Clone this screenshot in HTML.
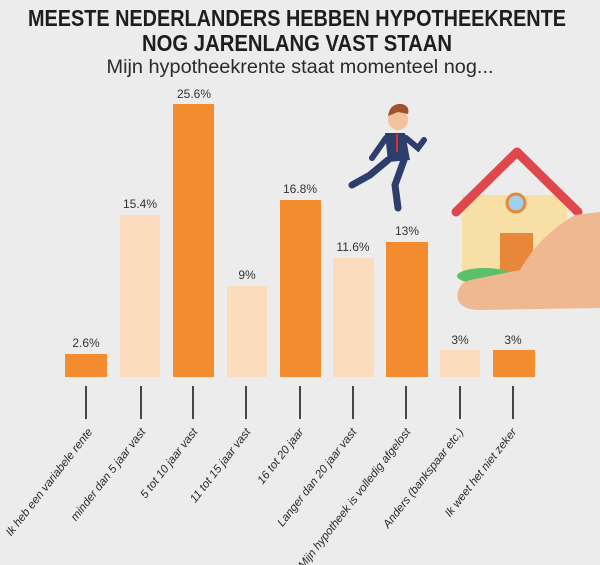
<!DOCTYPE html>
<html><head><meta charset="utf-8"><style>
html,body{margin:0;padding:0;background:#ececec}
svg{display:block}
</style></head><body>
<svg width="600" height="565" viewBox="0 0 600 565" xmlns="http://www.w3.org/2000/svg" font-family="Liberation Sans, sans-serif">
<rect width="600" height="565" fill="#ececec"/>
<text x="297" y="26" text-anchor="middle" font-size="23" font-weight="bold" fill="#1e1e1e" textLength="538" lengthAdjust="spacingAndGlyphs">MEESTE NEDERLANDERS HEBBEN HYPOTHEEKRENTE</text>
<text x="297" y="51" text-anchor="middle" font-size="23" font-weight="bold" fill="#1e1e1e" textLength="310" lengthAdjust="spacingAndGlyphs">NOG JARENLANG VAST STAAN</text>
<text x="300" y="73" text-anchor="middle" font-size="19" fill="#2a2a2a" textLength="387" lengthAdjust="spacingAndGlyphs">Mijn hypotheekrente staat momenteel nog...</text>

<g font-size="12" fill="#333" text-anchor="middle">
<rect x="65" y="354" width="42" height="23" fill="#f28c2e"/><text x="86" y="347">2.6%</text>
<rect x="120" y="215" width="40" height="162" fill="#fbdcbd"/><text x="140" y="208">15.4%</text>
<rect x="173" y="104" width="41" height="273" fill="#f28c2e"/><text x="194" y="98">25.6%</text>
<rect x="227" y="286" width="40" height="91" fill="#fbdcbd"/><text x="247" y="279">9%</text>
<rect x="280" y="200" width="41" height="177" fill="#f28c2e"/><text x="300" y="193">16.8%</text>
<rect x="333" y="258" width="41" height="119" fill="#fbdcbd"/><text x="353" y="251">11.6%</text>
<rect x="386" y="242" width="42" height="135" fill="#f28c2e"/><text x="407" y="235">13%</text>
<rect x="440" y="350" width="40" height="27" fill="#fbdcbd"/><text x="460" y="344">3%</text>
<rect x="493" y="350" width="42" height="27" fill="#f28c2e"/><text x="513" y="344">3%</text>
</g>

<g stroke="#333" stroke-width="1.8">
<line x1="86" y1="386" x2="86" y2="419"/><line x1="141" y1="386" x2="141" y2="419"/>
<line x1="193" y1="386" x2="193" y2="419"/><line x1="246" y1="386" x2="246" y2="419"/>
<line x1="300" y1="386" x2="300" y2="419"/><line x1="353" y1="386" x2="353" y2="419"/>
<line x1="406" y1="386" x2="406" y2="419"/><line x1="460" y1="386" x2="460" y2="419"/>
<line x1="513" y1="386" x2="513" y2="419"/>
</g>
<g font-size="11.5" font-style="italic" fill="#2a2a2a" text-anchor="end">
<text transform="translate(93,432) rotate(-52)">Ik heb een variabele rente</text>
<text transform="translate(146,432) rotate(-52)">minder dan 5 jaar vast</text>
<text transform="translate(198,432) rotate(-52)">5 tot 10 jaar vast</text>
<text transform="translate(251,432) rotate(-52)">11 tot 15 jaar vast</text>
<text transform="translate(304,432) rotate(-52)">16 tot 20 jaar</text>
<text transform="translate(357,432) rotate(-52)">Langer dan 20 jaar vast</text>
<text transform="translate(411,432) rotate(-52)">Mijn hypotheek is volledig afgelost</text>
<text transform="translate(464,432) rotate(-52)">Anders (bankspaar etc.)</text>
<text transform="translate(517,432) rotate(-52)">Ik weet het niet zeker</text>
</g>

<!-- house -->
<rect x="462" y="195" width="105" height="95" fill="#f8dfa6"/>
<polyline points="456,212 517,152 578,212" fill="none" stroke="#e0474c" stroke-width="9" stroke-linejoin="round" stroke-linecap="round"/>
<circle cx="516" cy="203" r="9" fill="#9fd0ee" stroke="#e8863a" stroke-width="3"/>
<rect x="500" y="233" width="33" height="45" fill="#e8863a"/>
<ellipse cx="485" cy="276" rx="28" ry="8" fill="#5cbf6a"/>
<!-- hand -->
<path d="M600,212 L575,215 Q540,235 520,270 L470,280 Q455,285 458,300 Q462,310 480,310 L600,308 Z" fill="#f0b890"/>
<!-- man -->
<g>
<circle cx="398" cy="120" r="10" fill="#f4c29a"/>
<path d="M388,116 Q390,103 402,104 Q410,106 408,114 L398,112 Z" fill="#a0522d"/>
<path d="M385,133 L405,133 L410,160 L388,162 Z" fill="#2c3e6b"/>
<line x1="397" y1="134" x2="397" y2="152" stroke="#d9342b" stroke-width="2"/>
<path d="M388,160 L370,175 L352,185" fill="none" stroke="#2c3e6b" stroke-width="7" stroke-linecap="round"/>
<path d="M404,160 L395,185 L398,208" fill="none" stroke="#2c3e6b" stroke-width="7" stroke-linecap="round"/>
<path d="M386,138 L372,158" stroke="#2c3e6b" stroke-width="6" stroke-linecap="round"/>
<path d="M406,138 L418,148 L424,140" fill="none" stroke="#2c3e6b" stroke-width="6" stroke-linecap="round"/>
</g>
</svg>
</body></html>
